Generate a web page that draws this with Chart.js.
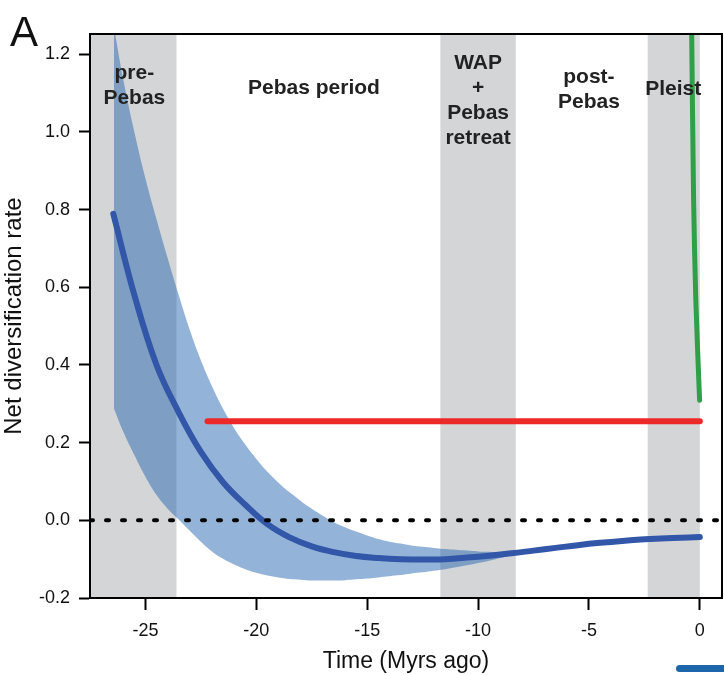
<!DOCTYPE html>
<html>
<head>
<meta charset="utf-8">
<script src="https://cdn.jsdelivr.net/npm/chart.js@4.4.1/dist/chart.umd.min.js"></script>
<style>
  body { margin: 0; background: #fff; overflow: hidden; }
  #wrap { position: relative; width: 724px; height: 675px; }
  #tail { position: absolute; left: 676px; top: 665px; width: 60px; height: 7px; border-radius: 4px; background: #1c66a9; }
</style>
</head>
<body>
<div id="wrap">
  <canvas id="grafico" width="724" height="675"></canvas>
  <div id="tail"></div>
</div>
<script>
// periods (Myrs ago)
const periodStart = [-27.5, -23.6, -11.7, -8.3, -2.35];
const periodEnd   = [-23.6, -11.7, -8.3, -2.35, 0];
const periodGray  = [true, false, true, false, true];
const periodMid   = [-25.5, -17.4, -10.0, -5.0, -1.2];
const periodNames = [['pre-', 'Pebas'], ['Pebas period'], ['WAP', '+', 'Pebas', 'retreat'], ['post-', 'Pebas'], ['Pleist']];

// mean net diversification rate (blue)
const timeLine = [-26.45, -25.5, -24.5, -23.5, -22.5, -21.5, -20.5, -19.5, -18.5, -17.5, -16.5, -15.5, -14.5, -13.5,
                  -12.5, -11.5, -10.5, -9.5, -8.5, -7.5, -6.5, -5.5, -4.5, -3.5, -2.5, -1.5, -0.5, 0];
const rateLine = [0.789, 0.58, 0.40, 0.278, 0.176, 0.098, 0.040, -0.010, -0.044, -0.067, -0.082, -0.092, -0.097, -0.100,
                  -0.101, -0.100, -0.096, -0.091, -0.085, -0.078, -0.071, -0.064, -0.058, -0.053, -0.049, -0.046, -0.044, -0.043];

// confidence band
const bandTime  = [-26.42, -26.0, -25.5, -25.0, -24.5, -24.0, -23.5, -23.0, -22.5, -22.0, -21.5, -21.0, -20.5, -20.0,
                   -19.5, -19.0, -18.5, -18.0, -17.5, -17.0, -16.5, -16.0, -15.5, -15.0, -14.5, -14.0, -13.5, -13.0,
                   -12.5, -12.0, -11.5, -11.0, -10.5, -10.0, -9.5, -9.0, -8.5, -8.3];
const bandUpper = [1.27, 1.135, 1.00, 0.88, 0.775, 0.675, 0.58, 0.49, 0.412, 0.345, 0.287, 0.237, 0.195, 0.158,
                   0.125, 0.097, 0.072, 0.050, 0.030, 0.012, -0.005, -0.018, -0.029, -0.039, -0.048, -0.055, -0.060, -0.065,
                   -0.068, -0.071, -0.074, -0.076, -0.078, -0.080, -0.081, -0.083, -0.085, -0.086];
const bandLower = [0.288, 0.228, 0.168, 0.112, 0.065, 0.030, 0.002, -0.027, -0.055, -0.080, -0.099, -0.114, -0.126, -0.135,
                   -0.142, -0.147, -0.151, -0.153, -0.155, -0.155, -0.155, -0.154, -0.152, -0.150, -0.147, -0.144, -0.141, -0.137,
                   -0.134, -0.130, -0.126, -0.121, -0.116, -0.110, -0.104, -0.097, -0.090, -0.087];

// constant rate (red) and pleistocene rate (green)
const redTime = [-22.2, 0];
const redRate = [0.255, 0.255];
const greenTime = [-0.37, -0.28, -0.18, -0.01];
const greenRate = [1.27, 0.824, 0.566, 0.309];

const zeroTime = [-27.5, 1.0];
const zeroRate = [0, 0];

const xTicks = [-25, -20, -15, -10, -5, 0];
const yTicks = [-0.2, 0.0, 0.2, 0.4, 0.6, 0.8, 1.0, 1.2];

function pts(xs, ys){
    return xs.map((x, i) => ({x: x, y: ys[i]}));
}

const fuente = 'Liberation Sans, Arial, Helvetica, sans-serif';

const periodos = {
    id: 'periodos',
    beforeDatasetsDraw(chart){
        const {ctx, chartArea, scales} = chart;
        ctx.save();
        ctx.fillStyle = '#d4d5d7';
        periodStart.forEach((s, i) => {
            if(!periodGray[i]) return;
            const x0 = scales.x.getPixelForValue(s);
            const x1 = scales.x.getPixelForValue(periodEnd[i]);
            ctx.fillRect(x0, chartArea.top, x1 - x0, chartArea.bottom - chartArea.top);
        });
        ctx.restore();
    },
    afterDatasetsDraw(chart){
        const {ctx, chartArea, scales} = chart;
        const firstLine = [39, 54, 29, 43, 55];   // px below top of plot
        ctx.save();
        ctx.fillStyle = '#222';
        ctx.font = 'bold 21px ' + fuente;
        ctx.textAlign = 'center';
        ctx.textBaseline = 'middle';
        periodNames.forEach((lines, i) => {
            const x = scales.x.getPixelForValue(periodMid[i]);
            lines.forEach((t, j) => {
                ctx.fillText(t, x, chartArea.top + firstLine[i] + j * 25);
            });
        });
        ctx.restore();
    },
    afterDraw(chart){
        const {ctx, chartArea} = chart;
        ctx.save();
        ctx.strokeStyle = '#000';
        ctx.lineWidth = 2;
        ctx.strokeRect(chartArea.left, chartArea.top, chartArea.right - chartArea.left, chartArea.bottom - chartArea.top);
        ctx.fillStyle = '#111';
        ctx.font = '42px ' + fuente;
        ctx.textAlign = 'left';
        ctx.textBaseline = 'alphabetic';
        ctx.fillText('A', 10, 46);
        ctx.restore();
    }
};

new Chart(document.getElementById('grafico'), {
    type: 'line',
    data: {
        datasets: [
            {   // dotted zero line, drawn on top
                data: pts(zeroTime, zeroRate),
                borderColor: '#000', borderWidth: 4, borderDash: [3, 13], borderCapStyle: 'round',
                pointRadius: 0
            },
            {
                data: pts(greenTime, greenRate),
                borderColor: 'rgb(48,160,72)', borderWidth: 5, borderCapStyle: 'round',
                pointRadius: 0, tension: 0.3
            },
            {
                data: pts(redTime, redRate),
                borderColor: 'rgb(237,40,40)', borderWidth: 6, borderCapStyle: 'round',
                pointRadius: 0
            },
            {
                data: pts(timeLine, rateLine),
                borderColor: 'rgb(50,86,168)', borderWidth: 6, borderCapStyle: 'round',
                pointRadius: 0, tension: 0.4
            },
            {
                data: pts(bandTime, bandUpper),
                borderWidth: 0, borderColor: 'rgba(0,0,0,0)',
                backgroundColor: 'rgba(45,106,178,0.51)',
                fill: '+1', pointRadius: 0, tension: 0.4
            },
            {
                data: pts(bandTime, bandLower),
                borderWidth: 0, borderColor: 'rgba(0,0,0,0)',
                pointRadius: 0, tension: 0.4
            }
        ]
    },
    options: {
        responsive: false,
        animation: false,
        devicePixelRatio: 1,
        layout: { padding: { top: 34, right: 2, left: 0, bottom: 0 } },
        plugins: { legend: { display: false }, tooltip: { enabled: false } },
        scales: {
            x: {
                type: 'linear', min: -27.5, max: 1.0,
                afterBuildTicks: s => { s.ticks = xTicks.map(v => ({value: v})); },
                afterFit: s => { s.height = 77; },
                grid: { drawOnChartArea: false, drawTicks: true, tickLength: 12, tickColor: '#000', tickWidth: 2 },
                border: { display: true, color: '#000', width: 2 },
                ticks: { color: '#111', font: { family: fuente, size: 18 }, padding: 10, callback: v => String(v) },
                title: { display: true, text: 'Time (Myrs ago)', color: '#111', font: { family: fuente, size: 23 }, padding: { top: 0, bottom: 0 } }
            },
            y: {
                type: 'linear', min: -0.2, max: 1.252,
                afterBuildTicks: s => { s.ticks = yTicks.map(v => ({value: v})); },
                afterFit: s => { s.width = 90; },
                grid: { drawOnChartArea: false, drawTicks: true, tickLength: 11, tickColor: '#000', tickWidth: 2 },
                border: { display: true, color: '#000', width: 2 },
                ticks: { color: '#111', font: { family: fuente, size: 18 }, padding: 9, callback: v => v.toFixed(1) },
                title: { display: true, text: 'Net diversification rate', color: '#111', font: { family: fuente, size: 24 }, padding: { top: 0, bottom: 0 } }
            }
        }
    },
    plugins: [periodos]
});
</script>
</body>
</html>
